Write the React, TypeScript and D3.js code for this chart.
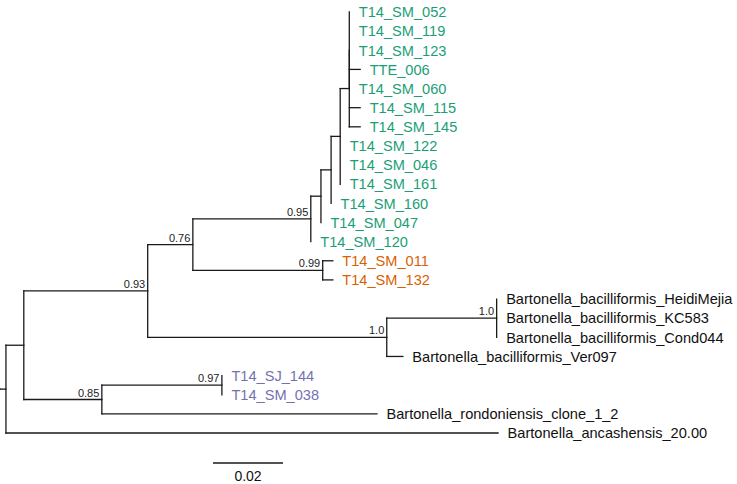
import React from "react";
import * as d3 from "d3";

// Tree topology with branch lengths (substitutions/site) and support values
const newick = `(((((((((((T14_SM_052:0,T14_SM_119:0,T14_SM_123:0,TTE_006:0.0031,T14_SM_060:0):0,T14_SM_115:0.0031,T14_SM_145:0.0031):0.0026,T14_SM_122:0,T14_SM_046:0,T14_SM_161:0):0.0026,T14_SM_160:0):0.0029,T14_SM_047:0):0.0029,T14_SM_120:0)0.95:0.0337,(T14_SM_011:0.0029,T14_SM_132:0.0029)0.99:0.0371)0.76:0.0129,((Bartonella_bacilliformis_HeidiMejia:0,Bartonella_bacilliformis_KC583:0,Bartonella_bacilliformis_Cond044:0)1.0:0.0314,Bartonella_bacilliformis_Ver097:0.0046)1.0:0.0683)0.93:0.0354,((T14_SJ_144:0,T14_SM_038:0)0.97:0.0343,Bartonella_rondoniensis_clone_1_2:0.0786)0.85:0.0223):0.0051,Bartonella_ancashensis_20.00:0.1406):0.0017;`;

const greenLeaves = ["T14_SM_052", "T14_SM_119", "T14_SM_123", "TTE_006", "T14_SM_060", "T14_SM_115", "T14_SM_145", "T14_SM_122", "T14_SM_046", "T14_SM_161", "T14_SM_160", "T14_SM_047", "T14_SM_120"];
const orangeLeaves = ["T14_SM_011", "T14_SM_132"];
const purpleLeaves = ["T14_SJ_144", "T14_SM_038"];
const scaleBarValue = 0.02;
const scaleBarLabel = "0.02";

type TNode = { name: string; length: number; children: TNode[] };

function parseNewick(src: string): TNode {
  const s = src.replace(/\s+/g, "");
  let i = 0;
  function node(): TNode {
    const n: TNode = { name: "", length: 0, children: [] };
    if (s[i] === "(") {
      i++;
      n.children.push(node());
      while (s[i] === ",") {
        i++;
        n.children.push(node());
      }
      i++;
    }
    let name = "";
    while (i < s.length && !",:);".includes(s[i])) name += s[i++];
    n.name = name;
    if (s[i] === ":") {
      i++;
      let num = "";
      while (i < s.length && !",);".includes(s[i])) num += s[i++];
      n.length = +num;
    }
    return n;
  }
  return node();
}

const FONT = "'Liberation Sans', Arial, Helvetica, sans-serif";

export default function App() {
  const W = 737, H = 484;
  const root = d3.hierarchy(parseNewick(newick), (d) => (d.children.length ? d.children : null));
  const leaves = root.leaves();
  const xScale = d3.scaleLinear().domain([0, scaleBarValue]).range([0, 70]);
  const yScale = d3.scaleLinear().domain([0, leaves.length - 1]).range([12, 433]);

  const dist = new Map<any, number>();
  root.eachBefore((n: any) => {
    dist.set(n, (n.parent ? dist.get(n.parent)! : 0) + n.data.length);
  });
  const yPos = new Map<any, number>();
  leaves.forEach((l, i) => yPos.set(l, yScale(i)));
  root.eachAfter((n: any) => {
    if (n.children) {
      const c = n.children;
      yPos.set(n, (yPos.get(c[0])! + yPos.get(c[c.length - 1])!) / 2);
    }
  });

  const color = (name: string) =>
    greenLeaves.includes(name) ? "#1b9e77" : orangeLeaves.includes(name) ? "#d95f02" : purpleLeaves.includes(name) ? "#7570b3" : "#111";

  const lines: React.ReactNode[] = [];
  const texts: React.ReactNode[] = [];
  let k = 0;
  root.each((n: any) => {
    const x1 = xScale(dist.get(n)!);
    const x0 = n.parent ? xScale(dist.get(n.parent)!) : xScale(0);
    const y = yPos.get(n)!;
    if (x1 - x0 > 0.5) lines.push(<line key={k++} x1={x0} x2={x1} y1={y} y2={y} />);
    if (n.children) {
      const c = n.children;
      lines.push(<line key={k++} x1={x1} x2={x1} y1={yPos.get(c[0])} y2={yPos.get(c[c.length - 1])} />);
      if (n.data.name && n.parent) {
        texts.push(
          <text key={k++} x={x1 - 2.5} y={y - 3} textAnchor="end" fontSize={11} fill="#222">
            {n.data.name}
          </text>
        );
      }
    } else {
      texts.push(
        <text key={k++} x={x1 + 9.5} y={y} dy="0.36em" fontSize={14.6} fill={color(n.data.name)}>
          {n.data.name}
        </text>
      );
    }
  });

  const sbX = 213, sbY = 463;
  return (
    <svg width={W} height={H} style={{ position: "absolute", left: 0, top: 0, background: "#fff" }} fontFamily={FONT}>
      <g stroke="#1a1a1a" strokeWidth={1.3} strokeLinecap="square">{lines}</g>
      <g>{texts}</g>
      <line x1={sbX} x2={sbX + xScale(scaleBarValue) - xScale(0)} y1={sbY} y2={sbY} stroke="#1a1a1a" strokeWidth={1.3} />
      <text x={sbX + (xScale(scaleBarValue) - xScale(0)) / 2} y={sbY + 13} dy="0.36em" textAnchor="middle" fontSize={14} fill="#111">
        {scaleBarLabel}
      </text>
    </svg>
  );
}
